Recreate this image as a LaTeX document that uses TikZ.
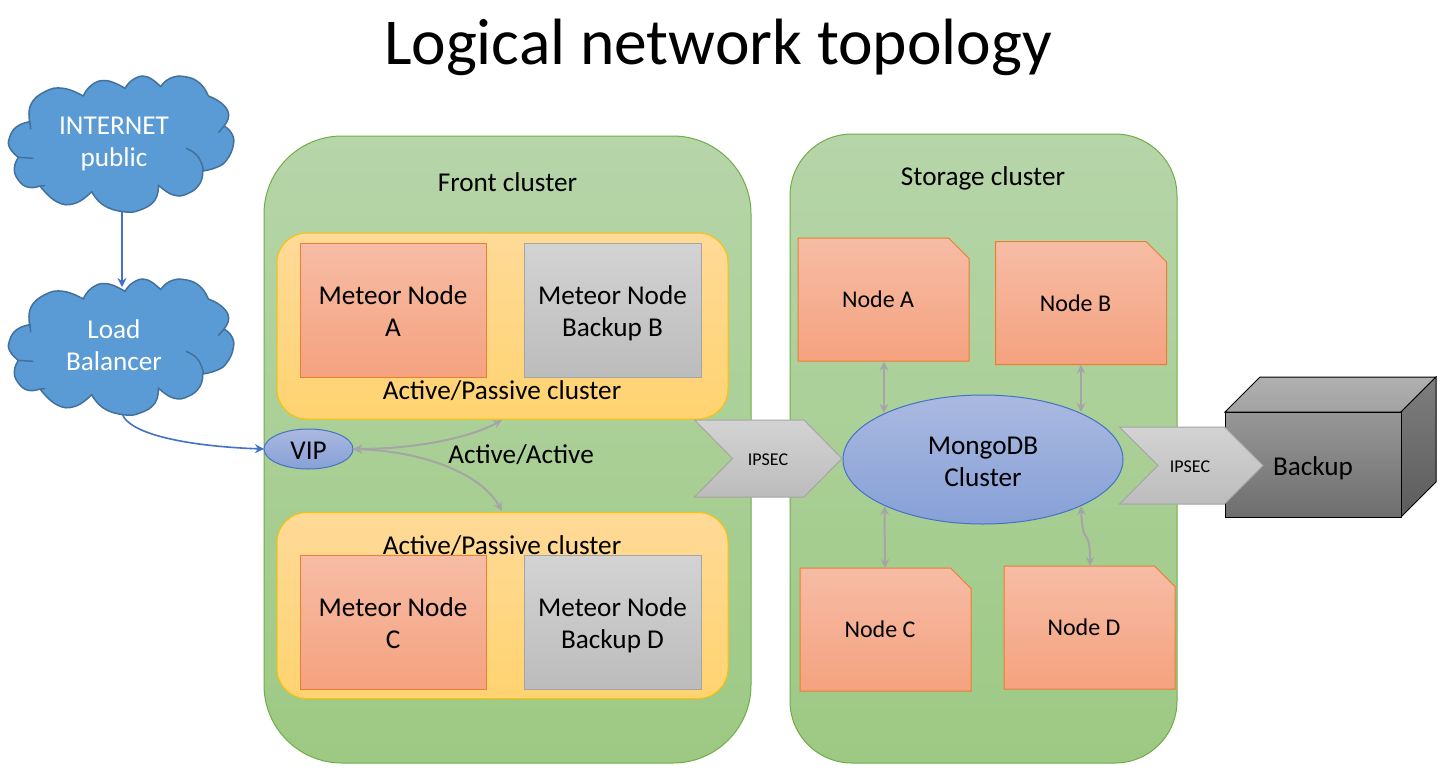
\documentclass[tikz,border=0pt]{standalone}
\usepackage{fontspec}
\setmainfont{Carlito}
\usetikzlibrary{arrows.meta,shapes.geometric}
\definecolor{cloudfill}{HTML}{5B9BD5}
\definecolor{cloudline}{HTML}{41719C}
\definecolor{linkblue}{HTML}{4472C4}
\definecolor{linkgray}{HTML}{A5A5A5}
\definecolor{clusterline}{HTML}{70AD47}
\definecolor{clustertop}{HTML}{B6D5A9}
\definecolor{clusterbottom}{HTML}{9DC983}
\definecolor{yellowtop}{HTML}{FFDA98}
\definecolor{yellowbottom}{HTML}{FFD370}
\definecolor{yellowline}{HTML}{FFC000}
\definecolor{orangetop}{HTML}{F6BCA5}
\definecolor{orangebottom}{HTML}{F5A27F}
\definecolor{orangeline}{HTML}{ED7D31}
\definecolor{graytop}{HTML}{D3D3D3}
\definecolor{graybottom}{HTML}{BCBCBC}
\definecolor{bluetop}{HTML}{AAB9E0}
\definecolor{bluebottom}{HTML}{87A0D7}
\definecolor{cubetopa}{HTML}{B0B0B0}
\definecolor{cubetopb}{HTML}{A2A2A2}
\definecolor{cuberighta}{HTML}{7E7E7E}
\definecolor{cuberightb}{HTML}{5C5C5C}
\definecolor{cubefronta}{HTML}{979797}
\definecolor{cubefrontb}{HTML}{6E6E6E}
\newcommand{\tst}[1]{\rule{0pt}{#1}}
\newcommand{\bst}[1]{\rule[-#1]{0pt}{#1}}
\tikzset{
  bodyfont/.style={font=\fontsize{27.2}{32}\selectfont,align=center},
  txt/.style={bodyfont,inner sep=0,text=black,anchor=base},
  ipsectxt/.style={font=\fontsize{18}{20}\selectfont,inner sep=0,text=black,anchor=base},
  cloudtxt/.style={bodyfont,inner sep=0,text=white},
  clusterbox/.style={draw=clusterline,line width=1pt,inner sep=0,outer sep=0,top color=clustertop,bottom color=clusterbottom},
  yellowbox/.style={draw=yellowline,line width=1pt,rounded corners=30pt,minimum width=451pt,minimum height=186pt,inner sep=0,outer sep=0,top color=yellowtop,bottom color=yellowbottom},
  orangebox/.style={bodyfont,draw=orangeline,line width=1pt,minimum width=186pt,minimum height=134pt,inner sep=0,outer sep=0,top color=orangetop,bottom color=orangebottom},
  graybox/.style={bodyfont,draw=linkgray,line width=1pt,minimum width=177pt,minimum height=134pt,inner sep=0,outer sep=0,top color=graytop,bottom color=graybottom},
  snipshape/.style={draw=orangeline,line width=1pt,top color=orangetop,bottom color=orangebottom},
  sniplabel/.style={font=\fontsize{24}{28}\selectfont,minimum width=171pt,minimum height=123pt,inner sep=0,outer sep=0},
  blueell/.style={bodyfont,ellipse,draw=linkblue,line width=1pt,inner sep=0,outer sep=0,top color=bluetop,bottom color=bluebottom},
  chevron/.style={draw=linkgray,line width=1pt,top color=graytop,bottom color=graybottom},
  linkg/.style={draw=linkgray,line width=2pt,{Stealth[length=9pt,width=8.5pt]}-{Stealth[length=9pt,width=8.5pt]}},
  linkb/.style={draw=linkblue,line width=1.6pt,-{Stealth[length=9pt,width=9pt]}},
  cloudfillstyle/.style={draw=cloudline,fill=cloudfill,line width=1.5pt,line join=round},
  cloudhook/.style={draw=cloudline,line width=1.5pt},
}
\newcommand{\snipnode}[4]{%
  \draw[snipshape,shift={(#2,#3)}] (-85.5,-61.5) -- (65,-61.5) -- (85.5,-41) -- (85.5,61.5) -- (-85.5,61.5) -- cycle;
  \node[sniplabel] (#1) at (#2,#3) {\tst{23pt}\bst{7pt}#4\kern11pt};}
\newcommand{\mycloud}[1]{%
  \begin{scope}[shift={(0pt,#1)},x=0.33333pt,y=-0.33333pt]
    \draw[cloudfillstyle]
      plot[smooth,tension=0.8] coordinates {(90,160)(92,105)(135,65)(190,55)(250,78)}
      -- plot[smooth,tension=0.8] coordinates {(250,78)(275,45)(320,32)(375,55)}
      -- plot[smooth,tension=0.8] coordinates {(375,55)(400,28)(440,20)(482,50)}
      -- plot[smooth,tension=0.8] coordinates {(482,50)(510,25)(555,20)(600,40)(625,78)}
      -- plot[smooth,tension=0.8] coordinates {(625,78)(665,100)(686,135)(672,168)}
      -- plot[smooth,tension=0.8] coordinates {(672,168)(695,190)(700,225)(680,270)(650,292)(608,303)}
      -- plot[smooth,tension=0.8] coordinates {(608,303)(600,340)(565,370)(520,375)(475,345)}
      -- plot[smooth,tension=0.8] coordinates {(475,345)(465,390)(420,420)(370,425)(310,405)(275,365)}
      -- plot[smooth,tension=0.8] coordinates {(275,365)(225,400)(170,395)(120,348)}
      -- plot[smooth,tension=0.8] coordinates {(120,348)(85,352)(55,330)(43,295)(55,262)}
      -- plot[smooth,tension=0.8] coordinates {(55,262)(30,235)(28,205)(50,170)(90,155)}
      -- cycle;
    \draw[cloudhook] (672,168)--(655,188);
    \draw[cloudhook] plot[smooth,tension=0.8] coordinates {(558,235)(590,255)(608,290)(608,303)};
    \draw[cloudhook] (55,262)--(100,265);
    \draw[cloudhook] (120,348)--(135,347);
    \draw[cloudhook] (90,155)--(92,178);
  \end{scope}}
\begin{document}
\begin{tikzpicture}[x=1pt,y=-1pt]
\useasboundingbox (0,0) rectangle (1443,782);
\fill[white] (0,0) rectangle (1443,782);

\node[font=\fontsize{65.5}{70}\selectfont,inner sep=0,anchor=base] (title) at (718,64) {Logical network topology};

% clusters
\node[clusterbox,rounded corners=78pt,minimum width=487pt,minimum height=627pt] (front) at (507.5,449.5) {};
\node[clusterbox,rounded corners=62pt,minimum width=387pt,minimum height=629pt] (storage) at (983.5,448.5) {};
\node[txt] (fronttxt) at (507.5,191.5) {Front cluster};
\node[txt] (storagetxt) at (983,185) {Storage cluster};

% active/passive groups
\node[yellowbox] (grp1) at (502.5,326) {};
\node[yellowbox] (grp2) at (502.5,605.5) {};
\node[txt] (ap1) at (502,399) {Active/Passive cluster};
\node[txt] (ap2) at (502,554) {Active/Passive cluster};
\node[orangebox] (ma) at (393,310) {\tst{29pt}Meteor Node\\A\bst{8.6pt}};
\node[graybox] (mb) at (612.5,310) {\tst{29pt}Meteor Node\\Backup B\bst{8.6pt}};
\node[orangebox] (mc) at (393,622) {\tst{29pt}Meteor Node\\C\bst{8.6pt}};
\node[graybox] (md) at (612.5,622) {\tst{29pt}Meteor Node\\Backup D\bst{8.6pt}};
\node[txt] (aa) at (521,463.5) {Active/Active};

% storage nodes
\snipnode{na}{883.5}{299.5}{Node A}
\snipnode{nb}{1081}{303}{Node B}
\snipnode{nc}{885.5}{629.5}{Node C}
\snipnode{nd}{1089.5}{627.5}{Node D}

% MongoDB and VIP
\node[blueell,minimum width=280pt,minimum height=129pt] (mongo) at (983,459.5) {\tst{30pt}MongoDB\\Cluster\bst{8.6pt}};
\node[blueell,inner ysep=-8pt,minimum width=89pt,minimum height=40pt] (vip) at (308.5,449) {\tst{29pt}\bst{7.8pt}VIP};

% storage links
\coordinate (ma1) at (884,361.5);
\coordinate (mo1) at (884,413);
\coordinate (nb1) at (1081,364.5);
\coordinate (mo2) at (1081,412);
\coordinate (mo3) at (884.5,506);
\coordinate (nc1) at (885,568);
\coordinate (mo4) at (1081,506);
\coordinate (nd1) at (1090,566);
\draw[linkg] (ma1) -- (mo1);
\draw[linkg] (nb1) -- (mo2);
\draw[linkg] (mo3) -- (nc1);
\draw[linkg] (mo4) .. controls (1082,528) and (1083,533) .. (1087,538) .. controls (1090,543) and (1090,555) .. (nd1);

% VIP links
\coordinate (g1) at (502,420);
\coordinate (g2) at (502,511);
\draw[linkg] (vip.east) .. controls (415,449) and (470,438) .. (g1);
\draw[linkg] (vip.east) .. controls (420,451) and (480,472) .. (g2);

% clouds
\mycloud{-70pt}
\mycloud{-273pt}
\node[cloudtxt] (internet) at (114,142) {\tst{26pt}INTERNET\\public\bst{9.4pt}};
\node[cloudtxt] (lb) at (114,345) {\tst{27.5pt}Load\\Balancer\bst{9pt}};
\coordinate (c1) at (122,212);
\coordinate (c2) at (122,287);
\coordinate (c3) at (122,414);
\draw[linkb] (c1) -- (c2);
\draw[linkb] (c3) .. controls (132,438) and (205,447) .. (vip.west);

% backup box
\draw[draw=black,line width=1pt,top color=cubetopa,bottom color=cubetopb] (1225,412) -- (1260,377) -- (1436,377) -- (1401,412) -- cycle;
\draw[draw=black,line width=1pt,top color=cuberighta,bottom color=cuberightb] (1401,412) -- (1436,377) -- (1436,482) -- (1401,517) -- cycle;
\node[draw=black,line width=1pt,inner sep=0,outer sep=0,minimum width=176pt,minimum height=105pt,top color=cubefronta,bottom color=cubefrontb] (cube) at (1313,464.5) {};
\node[txt] (backup) at (1313,475) {Backup};

% chevrons
\draw[chevron] (694.5,420) -- (804,420) -- (842,458.5) -- (804,497) -- (694.5,497) -- (732.5,458.5) -- cycle;
\node[ipsectxt] (ipsec1) at (768,465.5) {IPSEC};
\draw[chevron] (1119.5,427) -- (1224.5,427) -- (1263,465.5) -- (1224.5,504) -- (1119.5,504) -- (1158,465.5) -- cycle;
\node[ipsectxt] (ipsec2) at (1190,472.5) {IPSEC};
\end{tikzpicture}
\end{document}
